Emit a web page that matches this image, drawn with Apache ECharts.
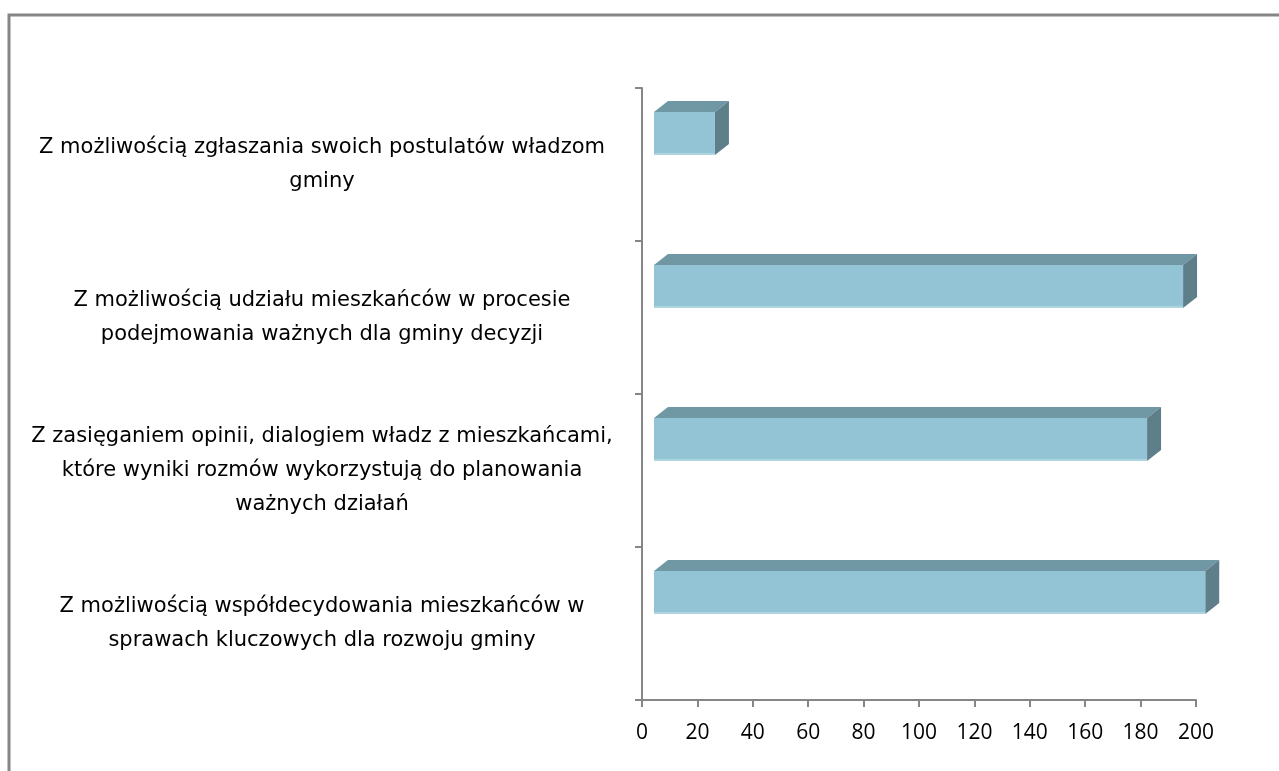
<!DOCTYPE html>
<html>
<head>
<meta charset="utf-8">
<script src="https://cdn.jsdelivr.net/npm/echarts@6/dist/echarts.min.js"></script>
<style>
  html, body { margin: 0; padding: 0; background: #fff; }
  #chart { width: 1279px; height: 771px; }
</style>
</head>
<body>
<div id="chart"></div>
<script>
// categories, top to bottom
var categories = [
  'Z możliwością zgłaszania swoich postulatów władzom\ngminy',
  'Z możliwością udziału mieszkańców w procesie\npodejmowania ważnych dla gminy decyzji',
  'Z zasięganiem opinii, dialogiem władz z mieszkańcami,\nktóre wyniki rozmów wykorzystują do planowania\nważnych działań',
  'Z możliwością współdecydowania mieszkańców w\nsprawach kluczowych dla rozwoju gminy'
]
var values = [22, 191, 178, 199]
var xTicks = [0, 20, 40, 60, 80, 100, 120, 140, 160, 180, 200]

var fontFam = '"DejaVu Sans", sans-serif'
var tickFam = '"Open Sans", sans-serif'
var axisGray = '#868686'

// 3d box look
function renderBar(params, api) {
  var idx = api.value(1)
  var v = api.value(0)
  var p0 = api.coord([0, idx])
  var p1 = api.coord([v, idx])
  var dx = 14, dy = 11, h = 43
  var x0 = p0[0] + 12, x1 = p1[0] + 12
  var yc = p0[1] - 31
  var top = yc - h / 2, bot = yc + h / 2
  return {
    type: 'group',
    children: [
      {
        type: 'polygon',
        shape: { points: [[x0, top], [x0 + dx, top - dy], [x1 + dx, top - dy], [x1, top]] },
        style: { fill: '#6F97A4' }
      },
      {
        type: 'polygon',
        shape: { points: [[x1, top], [x1 + dx, top - dy], [x1 + dx, bot - dy], [x1, bot]] },
        style: { fill: '#5E7F8A' }
      },
      {
        type: 'rect',
        shape: { x: x0, y: top, width: x1 - x0, height: h },
        style: { fill: '#93C4D5' }
      },
      {
        type: 'rect',
        shape: { x: x0, y: bot - 2, width: x1 - x0, height: 2 },
        style: { fill: '#AED4E0' }
      }
    ]
  }
}

var chart = echarts.init(document.getElementById('chart'))
chart.setOption({
  animation: false,
  textStyle: { fontFamily: fontFam },
  graphic: [
    {
      type: 'polyline',
      shape: { points: [[9, 771], [9, 15], [1279, 15]] },
      style: { stroke: axisGray, lineWidth: 3, fill: null }
    }
  ],
  grid: { left: 642, right: 83, top: 88, bottom: 71 },
  xAxis: {
    type: 'value',
    min: xTicks[0],
    max: xTicks[xTicks.length - 1],
    interval: xTicks[1] - xTicks[0],
    splitLine: { show: false },
    axisLine: { show: true, lineStyle: { color: axisGray, width: 2 } },
    axisTick: { show: true, length: 7, lineStyle: { color: axisGray, width: 2 } },
    axisLabel: { color: '#000', fontSize: 21, margin: 23, fontFamily: tickFam }
  },
  yAxis: {
    type: 'category',
    inverse: true,
    data: categories,
    axisLine: { show: true, lineStyle: { color: axisGray, width: 2 } },
    axisTick: { show: true, length: 7, alignWithLabel: false, lineStyle: { color: axisGray, width: 2 } },
    axisLabel: {
      color: '#000', fontSize: 21, lineHeight: 34, align: 'center',
      margin: 320, fontFamily: fontFam
    }
  },
  series: [{
    type: 'custom',
    renderItem: renderBar,
    encode: { x: 0, y: 1 },
    data: values.map(function (v, i) { return [v, i] })
  }]
})
</script>
</body>
</html>
